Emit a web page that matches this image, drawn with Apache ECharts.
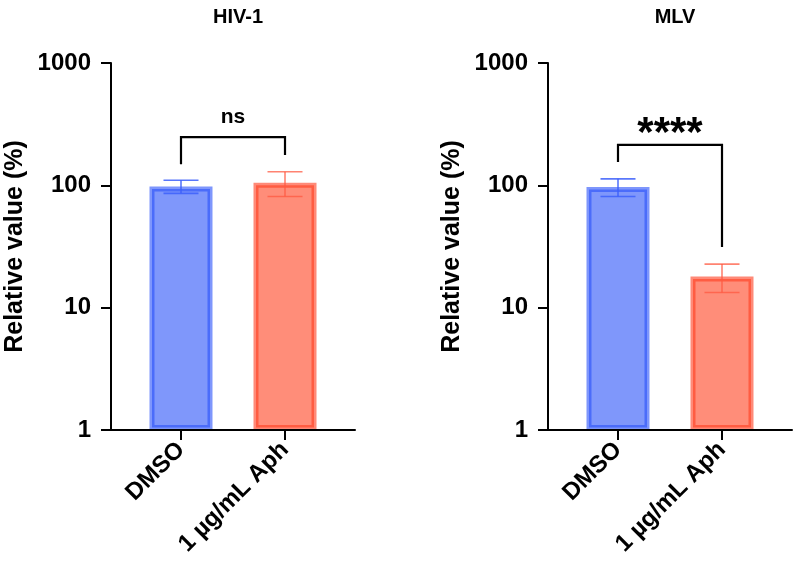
<!DOCTYPE html>
<html>
<head>
<meta charset="utf-8">
<script src="https://cdn.jsdelivr.net/npm/echarts@6/dist/echarts.min.js"></script>
<style>html,body{margin:0;padding:0;background:#fff}#c{width:797px;height:574px}</style>
</head>
<body>
<div id="c"></div>
<script>
// ---- data ----
const categories = ['DMSO', '1 µg/mL Aph'];
const panelTitles = ['HIV-1', 'MLV'];
const hivMean = [98, 105];
const hivSd = [12, 24];
const mlvMean = [97, 18];
const mlvSd = [16, 4.7];
const yTicks = [1, 10, 100, 1000];
// brackets: [leftCat, rightCat, top, leftLegEnd, rightLegEnd, labelY]
const hivBracket = [0, 1, 248, 149, 177, 360];
const mlvBracket = [0, 1, 214, 155, 31.3, 262];
const sigLabels = ['ns', '****'];

// ---- styles ----
const FONT = "'Liberation Sans', Arial, Helvetica, sans-serif";
const fills = ['#7f97fb', '#ff8d79'];
const borders = ['rgba(40,80,250,0.6)', 'rgba(255,60,30,0.6)'];
const errColors = ['rgba(60,95,250,0.85)', 'rgba(255,90,65,0.75)'];

const chart = echarts.init(document.getElementById('c'), null, {renderer: 'canvas'});

const gridLefts = [111, 548];
const grids = gridLefts.map(l => ({left: l, width: 244, top: 63, height: 367}));

function xAxisFor(i) {
  return {
    gridIndex: i, type: 'value', min: -0.673, max: 1.673, z: 10,
    axisLine: {show: true, onZero: false, lineStyle: {color: '#000', width: 2}},
    axisTick: {show: true, customValues: [0, 1], length: 10, lineStyle: {color: '#000', width: 2}},
    axisLabel: {customValues: [0, 1], rotate: 45, margin: 16, color: '#000',
      fontFamily: FONT, fontWeight: 'bold', fontSize: 24,
      formatter: v => categories[Math.round(v)]},
    splitLine: {show: false}
  };
}
function yAxisFor(i) {
  return {
    gridIndex: i, type: 'log', logBase: 10, min: 1, max: 1000, z: 10,
    axisLine: {show: true, onZero: false, lineStyle: {color: '#000', width: 2}},
    axisTick: {show: true, length: 10, customValues: yTicks, lineStyle: {color: '#000', width: 2}},
    axisLabel: {customValues: yTicks, margin: 20, color: '#000', fontFamily: FONT, fontWeight: 'bold', fontSize: 24,
      formatter: v => String(Math.round(v))},
    splitLine: {show: false},
    name: 'Relative value (%)', nameLocation: 'middle', nameGap: 83,
    nameTextStyle: {color: '#000', fontFamily: FONT, fontWeight: 'bold', fontSize: 25}
  };
}

function barSeries(i, means) {
  return {
    type: 'bar', xAxisIndex: i, yAxisIndex: i, barWidth: 63, clip: false, z: 2,
    data: means.map((m, k) => ({value: [k, m], itemStyle: {color: fills[k], borderColor: borders[k], borderWidth: 5}}))
  };
}
function errSeries(i, means, sds) {
  return {
    type: 'custom', xAxisIndex: i, yAxisIndex: i, z: 5, clip: false,
    data: means.map((m, k) => [k, m - sds[k], m + sds[k]]),
    renderItem: function (params, api) {
      const k = api.value(0);
      const lo = api.coord([k, api.value(1)]);
      const hi = api.coord([k, api.value(2)]);
      const hw = 17.5;
      const st = {stroke: errColors[params.dataIndex], lineWidth: 1.6};
      return {type: 'group', children: [
        {type: 'line', shape: {x1: lo[0], y1: lo[1], x2: hi[0], y2: hi[1]}, style: st},
        {type: 'line', shape: {x1: hi[0] - hw, y1: hi[1], x2: hi[0] + hw, y2: hi[1]}, style: st},
        {type: 'line', shape: {x1: lo[0] - hw, y1: lo[1], x2: lo[0] + hw, y2: lo[1]}, style: st}
      ]};
    }
  };
}
function bracketSeries(i, b, label, fontSize) {
  return {
    type: 'custom', xAxisIndex: i, yAxisIndex: i, z: 6, clip: false,
    data: [b],
    renderItem: function (params, api) {
      const x0 = api.value(0), x1 = api.value(1);
      const tl = api.coord([x0, api.value(2)]);
      const tr = api.coord([x1, api.value(2)]);
      const bl = api.coord([x0, api.value(3)]);
      const br = api.coord([x1, api.value(4)]);
      const lab = api.coord([(x0 + x1) / 2, api.value(5)]);
      return {type: 'group', children: [
        {type: 'polyline', shape: {points: [bl, tl, tr, br]}, style: {stroke: '#000', lineWidth: 2.2, fill: null}},
        {type: 'text', x: lab[0], y: lab[1], style: {text: label, fill: '#000', fontFamily: FONT, fontWeight: 'bold',
          fontSize: fontSize, align: 'center', verticalAlign: 'middle'}}
      ]};
    }
  };
}

chart.setOption({
  animation: false,
  title: panelTitles.map((t, i) => ({
    text: t, left: gridLefts[i] + 122, top: 2, textAlign: 'center',
    textStyle: {color: '#000', fontFamily: FONT, fontWeight: 'bold', fontSize: 20}
  })),
  grid: grids,
  xAxis: [xAxisFor(0), xAxisFor(1)],
  yAxis: [yAxisFor(0), yAxisFor(1)],
  series: [
    barSeries(0, hivMean), errSeries(0, hivMean, hivSd), bracketSeries(0, hivBracket, sigLabels[0], 21),
    barSeries(1, mlvMean), errSeries(1, mlvMean, mlvSd), bracketSeries(1, mlvBracket, sigLabels[1], 42)
  ]
});
</script>
</body>
</html>
